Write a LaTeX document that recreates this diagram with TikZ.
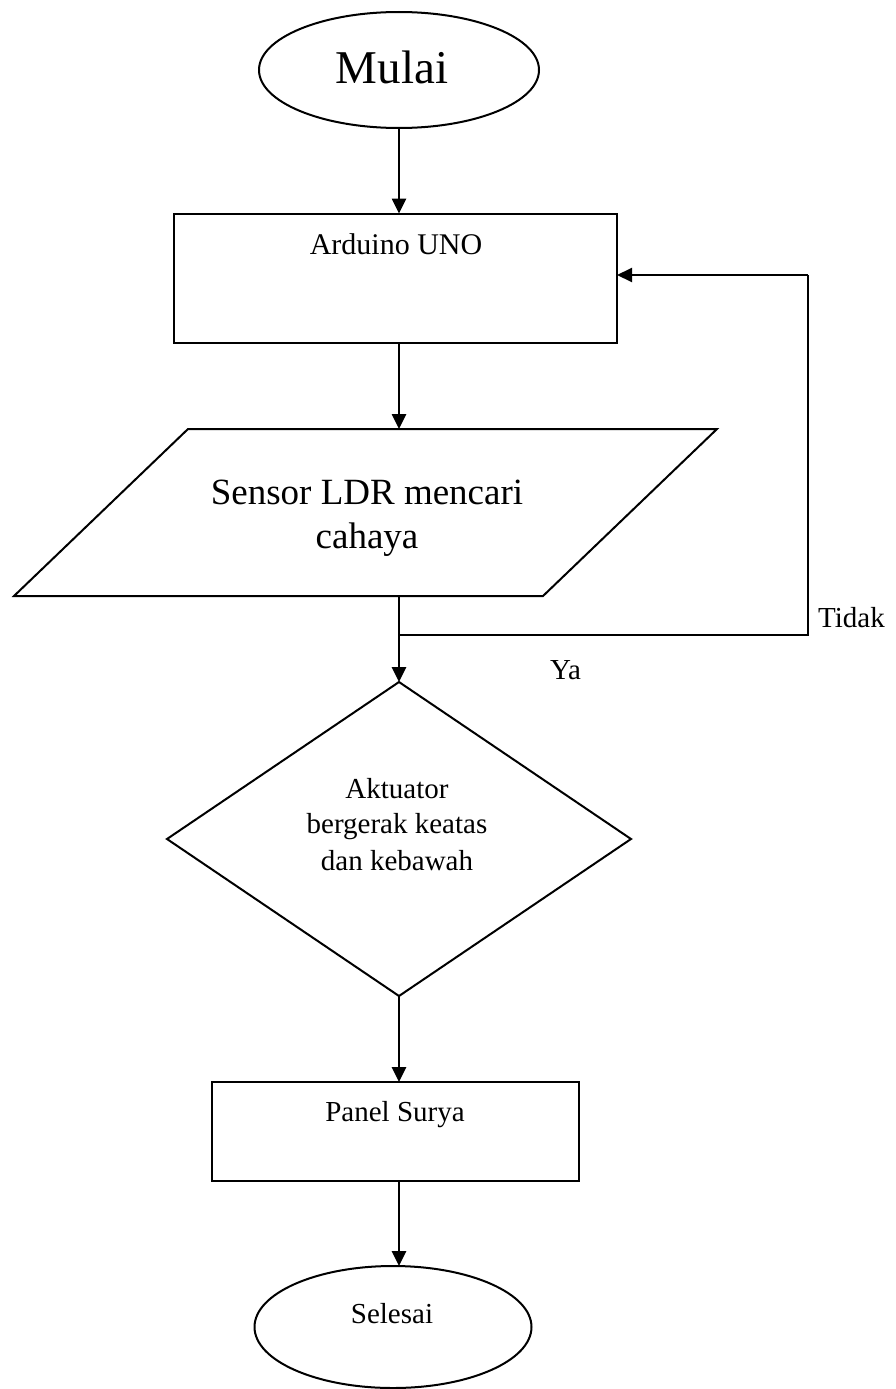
\documentclass[tikz,border=0pt]{standalone}
\usepackage{fontspec}
\setmainfont{Liberation Serif}
\usetikzlibrary{shapes.geometric,arrows.meta}
\begin{document}
\begin{tikzpicture}[x=1pt,y=1pt,
  box/.style={draw, line width=2pt, inner sep=0pt, outer sep=0pt},
  conn/.style={line width=2.6pt, -{Triangle[length=15pt,width=14pt]}},
  plain/.style={line width=2pt},
  txt/.style={inner sep=0pt, anchor=base, font=\fontsize{29}{36}\selectfont},
]
\useasboundingbox (0,0) rectangle (896,-1389);
% shapes
\node[box, ellipse, minimum width=280, minimum height=116] (start) at (399,-70) {};
\node[box, rectangle, minimum width=443, minimum height=129] (ard) at (395.5,-278) {};
\coordinate (parTL) at (188,-429);
\coordinate (parTR) at (717,-429);
\coordinate (parBR) at (543,-596);
\coordinate (parBL) at (14,-596);
\draw[line width=2pt, line join=miter] (parTL) -- (parTR) -- (parBR) -- (parBL) -- cycle;
\coordinate (parN) at (399,-429);
\coordinate (parS) at (399,-596);
\node[box, diamond, minimum width=464, minimum height=314] (dec) at (399,-839) {};
\node[box, rectangle, minimum width=367, minimum height=99] (panel) at (395.5,-1131.5) {};
\node[box, ellipse, minimum width=277, minimum height=122] (stop) at (393,-1327) {};
% texts
\node[txt, font=\fontsize{47}{56}\selectfont] (start-t) at (392,-83) {Mulai};
\node[txt, font=\fontsize{30}{36}\selectfont] (ard-t) at (396,-254) {Arduino UNO};
\node[txt, font=\fontsize{37}{44}\selectfont] (par-t1) at (367,-504) {Sensor LDR mencari};
\node[txt, font=\fontsize{37}{44}\selectfont] (par-t2) at (367,-548) {cahaya};
\node[txt] (dec-t1) at (397,-798) {Aktuator};
\node[txt] (dec-t2) at (397,-833) {bergerak keatas};
\node[txt] (dec-t3) at (397,-870) {dan kebawah};
\node[txt] (panel-t) at (395,-1121) {Panel Surya};
\node[txt] (stop-t) at (392,-1323) {Selesai};
\node[txt, anchor=base west] (tidak) at (818,-627) {Tidak};
\node[txt, anchor=base west] (ya) at (550,-679) {Ya};
% connectors
\coordinate (brk) at (399,-635);
\coordinate (fbR) at (808,-275);
\draw[conn] (start.south) -- (start.south |- ard.north);
\draw[conn] (ard.south -| start.south) -- (parN);
\draw[conn] (parS) -- (dec.north);
\draw[conn] (dec.south) -- (dec.south |- panel.north);
\draw[conn] (panel.south -| dec.south) -- (dec.south |- stop.north);
\draw[plain] (brk) -- (brk -| fbR) -- (fbR);
\draw[plain, -{Triangle[length=15pt,width=14pt]}] (fbR) -- (fbR -| ard.east);
\end{tikzpicture}
\end{document}
